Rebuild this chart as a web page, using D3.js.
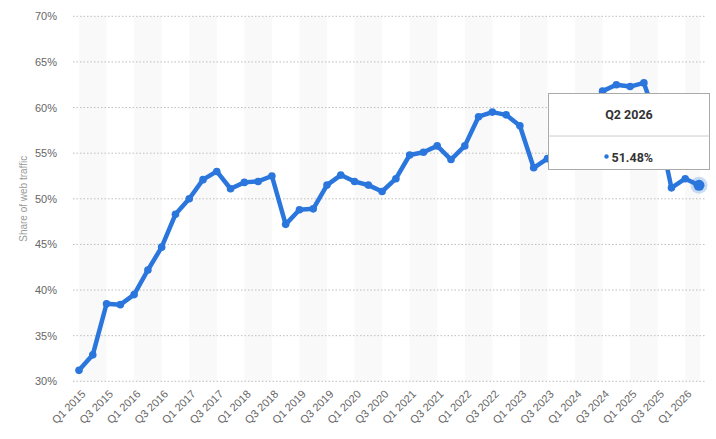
<!DOCTYPE html>
<html><head><meta charset="utf-8">
<script src="https://cdn.jsdelivr.net/npm/d3@7/dist/d3.min.js"></script>
<style>
body{margin:0;background:#fff;}
svg{display:block;font-family:"Liberation Sans",Arial,sans-serif;}
</style></head>
<body><svg id="c" width="716" height="439"></svg>
<script>
const quarters = [];
const years = d3.range(2015, 2027);
years.forEach(y => { for (let q = 1; q <= 4; q++) { if (y === 2026 && q > 2) break; quarters.push("Q" + q + " " + y); } });
const values = [31.2, 32.9, 38.5, 38.4, 39.5, 42.2, 44.7, 48.3, 50.0, 52.1, 53.0, 51.1,
  51.8, 51.9, 52.5, 47.2, 48.8, 48.9, 51.5, 52.6, 51.9, 51.5, 50.8, 52.2,
  54.8, 55.1, 55.8, 54.3, 55.8, 59.0, 59.5, 59.2, 58.0, 53.4, 54.4, 55.0,
  56.5, 58.8, 61.8, 62.5, 62.3, 62.7, 58.3, 51.2, 52.2, 51.48];
const yTicks = [30, 35, 40, 45, 50, 55, 60, 65, 70];
const yLabel = "Share of web traffic";
const tooltipQuarter = "Q2 2026";
const tooltipValue = "51.48%";

const svg = d3.select("#c");
const x = d3.scalePoint().domain(quarters).range([79, 699]);
const y = d3.scaleLinear().domain([30, 70]).range([381.3, 16.3]);
const step = x.step();
const blue = "#2a76dd";

// alternating bands
const bandG = svg.append("g");
quarters.forEach((q, i) => {
  if (i % 4 === 0) {
    const x0 = x(q);
    const x1 = Math.min(x0 + 2 * step, x.range()[1] + 1);
    bandG.append("rect").attr("x", x0).attr("y", y(70)).attr("width", x1 - x0)
      .attr("height", y(30) - y(70)).attr("fill", "#f9f9f9");
  }
});

// gridlines
svg.append("g").selectAll("line").data(yTicks).join("line")
  .attr("x1", 73).attr("x2", 706).attr("y1", d => y(d)).attr("y2", d => y(d))
  .attr("stroke", "#bdbdbd").attr("stroke-width", 1).attr("stroke-dasharray", "1.5,2");

// y axis labels
const yAxis = d3.axisLeft(y).tickValues(yTicks).tickFormat(d => d + "%").tickSize(0).tickPadding(0);
const ya = svg.append("g").attr("transform", "translate(57,0)").call(yAxis);
ya.select(".domain").remove();
ya.selectAll("text").attr("fill", "#666").attr("font-size", 11).attr("font-family", "Liberation Sans, Arial, sans-serif");

svg.append("text").attr("transform", "translate(27," + y(50) + ") rotate(-90)")
  .attr("text-anchor", "middle").attr("font-size", 10).attr("fill", "#999").text(yLabel);

// x axis labels
const xAxis = d3.axisBottom(x).tickValues(quarters.filter((q, i) => i % 2 === 0)).tickSize(0).tickPadding(0);
const xa = svg.append("g").attr("transform", "translate(0,392)").call(xAxis);
xa.select(".domain").remove();
xa.selectAll("text").attr("fill", "#666").attr("font-size", 11).attr("font-family", "Liberation Sans, Arial, sans-serif")
  .attr("text-anchor", "end").attr("dy", "0.35em").attr("transform", "translate(4,0) rotate(-45)");

// line
const data = quarters.map((q, i) => ({ q, v: values[i] }));
svg.append("path").datum(data)
  .attr("d", d3.line().x(d => x(d.q)).y(d => y(d.v)))
  .attr("fill", "none").attr("stroke", blue).attr("stroke-width", 4.5)
  .attr("stroke-linejoin", "round").attr("stroke-linecap", "round");
svg.append("g").selectAll("circle").data(data).join("circle")
  .attr("cx", d => x(d.q)).attr("cy", d => y(d.v)).attr("r", 3.8).attr("fill", blue);

// hover point
const last = data[data.length - 1];
svg.append("circle").attr("cx", x(last.q)).attr("cy", y(last.v)).attr("r", 8.5)
  .attr("fill", blue).attr("fill-opacity", 0.25);
svg.append("circle").attr("cx", x(last.q)).attr("cy", y(last.v)).attr("r", 5.5).attr("fill", blue);

// tooltip
const tg = svg.append("g").attr("transform", "translate(548.5,93.5)");
tg.append("rect").attr("width", 161).attr("height", 76).attr("fill", "#fff").attr("stroke", "#aaa").attr("stroke-width", 1);
tg.append("line").attr("x1", 0).attr("x2", 161).attr("y1", 42.5).attr("y2", 42.5).attr("stroke", "#ccc");
tg.append("text").attr("x", 80.5).attr("y", 25).attr("text-anchor", "middle")
  .attr("font-family", "Roboto, sans-serif").attr("font-weight", "bold").attr("font-size", 12.5).attr("fill", "#333").text(tooltipQuarter);
tg.append("circle").attr("cx", 58).attr("cy", 63).attr("r", 2.2).attr("fill", blue);
tg.append("text").attr("x", 63).attr("y", 68).attr("font-family", "Roboto, sans-serif")
  .attr("font-weight", "bold").attr("font-size", 12.5).attr("fill", "#333").text(tooltipValue);
</script></body></html>
